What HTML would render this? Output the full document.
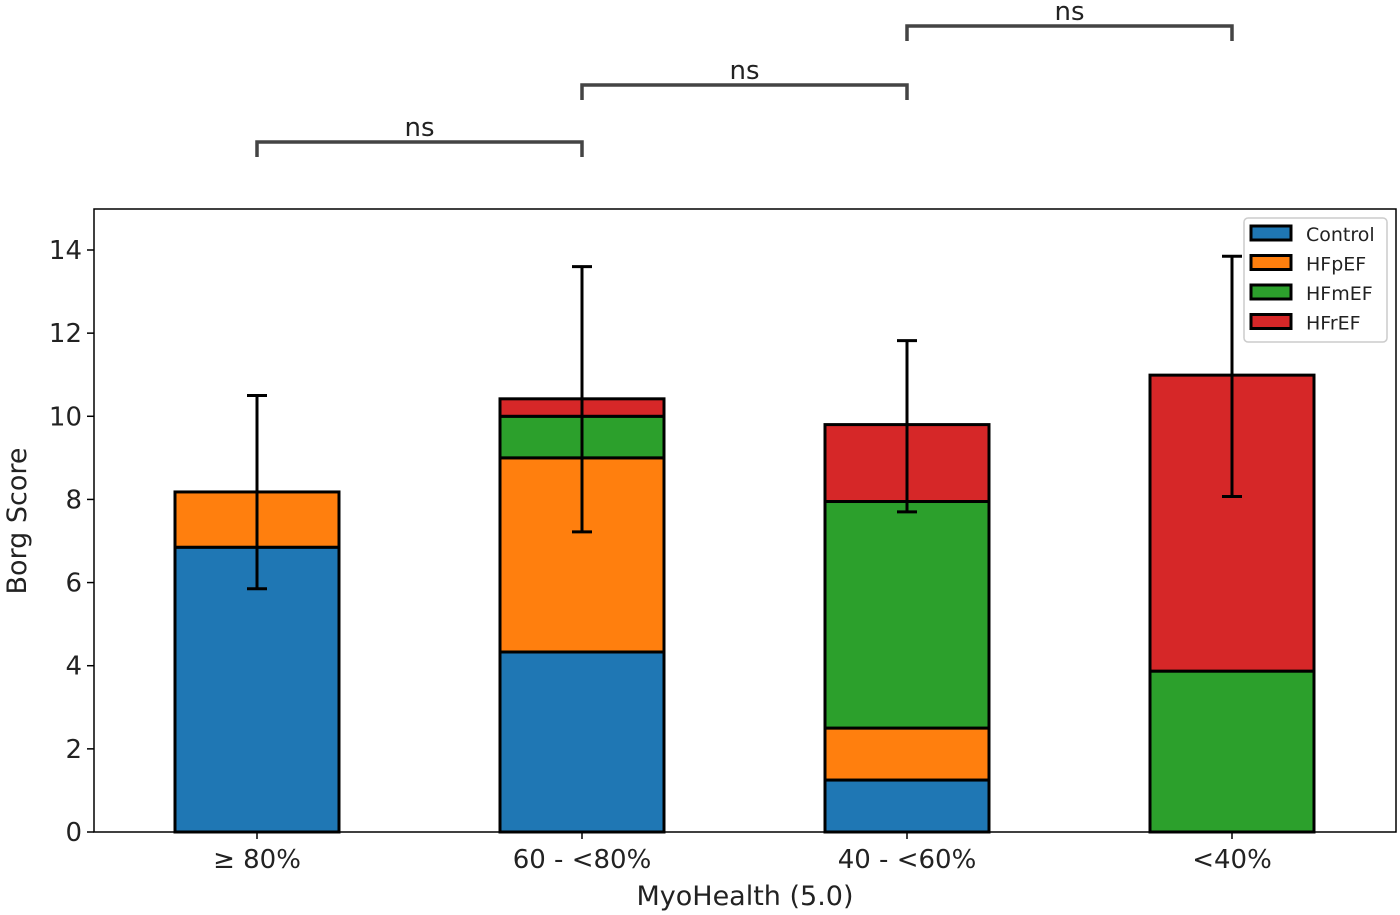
<!DOCTYPE html>
<html><head><meta charset="utf-8"><style>
html,body{margin:0;padding:0;background:#fff;}
svg{display:block;font-family:"DejaVu Sans","Liberation Sans",sans-serif;}
</style></head><body>
<svg id="chart" width="1400" height="915" viewBox="0 0 1400 915" xmlns="http://www.w3.org/2000/svg"></svg>
<script>
const categories = ["≥ 80%", "60 - <80%", "40 - <60%", "<40%"];
const seriesNames = ["Control", "HFpEF", "HFmEF", "HFrEF"];
const controlVals = [6.85, 4.33, 1.25, 0];
const hfpefVals = [1.33, 4.67, 1.25, 0];
const hfmefVals = [0, 1.0, 5.45, 3.87];
const hfrefVals = [0, 0.42, 1.85, 7.12];
const errLow = [5.85, 7.22, 7.7, 8.07];
const errHigh = [10.5, 13.6, 11.82, 13.85];
const yTicks = [0, 2, 4, 6, 8, 10, 12, 14];
const sigPairs = [[0, 1], [1, 2], [2, 3]];
const sigLabels = ["ns", "ns", "ns"];
const colors = ["#1f77b4", "#ff7f0e", "#2ca02c", "#d62728"];

const NS = "http://www.w3.org/2000/svg";
const svg = document.getElementById("chart");
const L = 94, R = 1396, T = 209, B = 832;
const y = v => B - v * (B - 250) / 14;
const x = i => 257 + i * 325;
const bw = 164;
function mk(tag, attrs, parent) {
  const e = document.createElementNS(NS, tag);
  for (const k in attrs) e.setAttribute(k, attrs[k]);
  (parent || svg).appendChild(e);
  return e;
}
// bars
const allVals = [controlVals, hfpefVals, hfmefVals, hfrefVals];
categories.forEach((c, i) => {
  let base = 0;
  allVals.forEach((arr, s) => {
    const v = arr[i];
    if (v > 0) {
      const r = mk("rect", {x: x(i) - bw / 2, y: y(base + v), width: bw, height: y(base) - y(base + v), fill: colors[s], stroke: "#000", "stroke-width": 3});
      
      
    }
    base += v;
  });
});
// error bars
categories.forEach((c, i) => {
  const g = mk("g", {stroke: "#000", "stroke-width": 3});
  
  
  mk("line", {x1: x(i), x2: x(i), y1: y(errLow[i]), y2: y(errHigh[i])}, g);
  mk("line", {x1: x(i) - 10, x2: x(i) + 10, y1: y(errLow[i]), y2: y(errLow[i])}, g);
  mk("line", {x1: x(i) - 10, x2: x(i) + 10, y1: y(errHigh[i]), y2: y(errHigh[i])}, g);
});
// axes frame
const frame = mk("rect", {x: L, y: T, width: R - L, height: B - T, fill: "none", stroke: "#000", "stroke-width": 1.5});


// y ticks
yTicks.forEach(t => {
  mk("line", {x1: L - 7, x2: L, y1: y(t), y2: y(t), stroke: "#000", "stroke-width": 1.5});
  const tx = mk("text", {x: L - 12, y: y(t) + 9, "text-anchor": "end", "font-size": 26, fill: "#222"});
  tx.textContent = t;
  
  
});
// x ticks
categories.forEach((c, i) => {
  mk("line", {x1: x(i), x2: x(i), y1: B, y2: B + 7, stroke: "#000", "stroke-width": 1.5});
  const tx = mk("text", {x: x(i), y: B + 36, "text-anchor": "middle", "font-size": 26, fill: "#222"});
  tx.textContent = c;
  
  
});
const xt = mk("text", {x: 745, y: 905, "text-anchor": "middle", "font-size": 27, fill: "#222"});
xt.textContent = "MyoHealth (5.0)";


const yt = mk("text", {x: 0, y: 0, "text-anchor": "middle", "font-size": 27, fill: "#222", transform: "translate(26,521) rotate(-90)"});
yt.textContent = "Borg Score";


// significance brackets
const bY = [142, 85, 26];
sigPairs.forEach((p, k) => {
  const g = mk("g", {stroke: "#444", "stroke-width": 3.5, fill: "none"});
  
  
  mk("polyline", {points: `${x(p[0])},${bY[k] + 15} ${x(p[0])},${bY[k]} ${x(p[1])},${bY[k]} ${x(p[1])},${bY[k] + 15}`}, g);
  const tx = mk("text", {x: (x(p[0]) + x(p[1])) / 2, y: bY[k] - 6, "text-anchor": "middle", "font-size": 26, fill: "#222"});
  tx.textContent = sigLabels[k];
  
  
});
// legend
const lg = mk("g", {});


mk("rect", {x: 1244, y: 218, width: 143, height: 124, rx: 4, fill: "#fff", stroke: "#ccc", "stroke-width": 1.5}, lg);
seriesNames.forEach((n, s) => {
  const g = mk("g", {}, lg);
  
  
  const yy = 226 + s * 29.5;
  mk("rect", {x: 1251, y: yy, width: 40, height: 14, fill: colors[s], stroke: "#000", "stroke-width": 3}, g);
  const tx = mk("text", {x: 1306, y: yy + 15, "font-size": 19, fill: "#222"}, g);
  tx.textContent = n;
});
</script>
</body></html>
